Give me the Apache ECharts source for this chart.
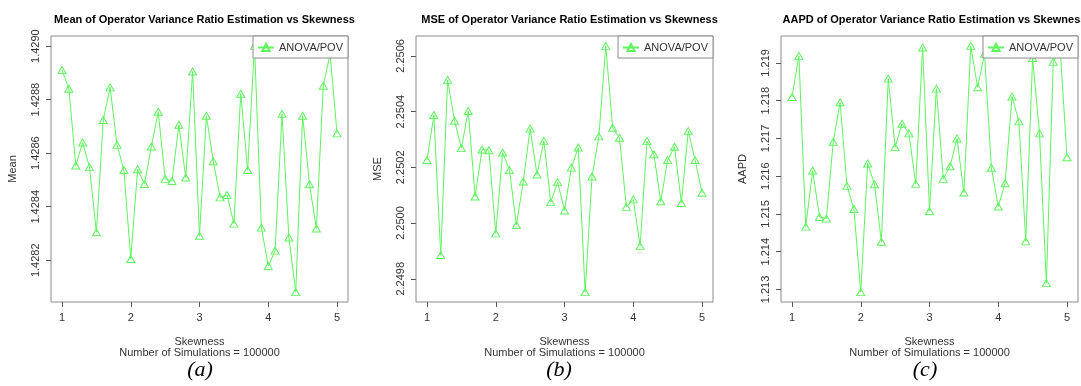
<!DOCTYPE html>
<html>
<head>
<meta charset="utf-8">
<script src="https://cdn.jsdelivr.net/npm/echarts@6/dist/echarts.min.js"></script>
<style>
  html, body { margin: 0; padding: 0; background: #fff; }
  #chart { width: 1081px; height: 386px; }
</style>
</head>
<body>
<div id="chart"></div>
<script>
// skewness levels on the x axis
const skewness = [1.0, 1.1, 1.2, 1.3, 1.4, 1.5, 1.6, 1.7, 1.8, 1.9,
                  2.0, 2.1, 2.2, 2.3, 2.4, 2.5, 2.6, 2.7, 2.8, 2.9,
                  3.0, 3.1, 3.2, 3.3, 3.4, 3.5, 3.6, 3.7, 3.8, 3.9,
                  4.0, 4.1, 4.2, 4.3, 4.4, 4.5, 4.6, 4.7, 4.8, 4.9, 5.0];

const meanVals = [1.428911, 1.428841, 1.428554, 1.428640, 1.428548, 1.428305, 1.428724, 1.428846, 1.428631, 1.428537,
                  1.428205, 1.428540, 1.428485, 1.428625, 1.428755, 1.428504, 1.428496, 1.428706, 1.428509, 1.428905,
                  1.428292, 1.428740, 1.428570, 1.428435, 1.428444, 1.428337, 1.428822, 1.428537, 1.429001, 1.428322,
                  1.428179, 1.428236, 1.428747, 1.428285, 1.428081, 1.428740, 1.428484, 1.428319, 1.428852, 1.428970, 1.428674];

const mseVals = [2.250226, 2.250388, 2.249885, 2.250514, 2.250367, 2.250269, 2.250402, 2.250095, 2.250264, 2.250261,
                 2.249963, 2.250253, 2.250190, 2.249993, 2.250149, 2.250339, 2.250174, 2.250295, 2.250075, 2.250147,
                 2.250045, 2.250199, 2.250271, 2.249752, 2.250167, 2.250311, 2.250636, 2.250342, 2.250306, 2.250058,
                 2.250085, 2.249918, 2.250294, 2.250247, 2.250078, 2.250226, 2.250274, 2.250072, 2.250330, 2.250226, 2.250109];

const aapdVals = [1.218097, 1.219186, 1.214664, 1.216150, 1.214920, 1.214876, 1.216912, 1.217956, 1.215743, 1.215133,
                  1.212929, 1.216336, 1.215788, 1.214265, 1.218584, 1.216770, 1.217389, 1.217133, 1.215796, 1.219407,
                  1.215080, 1.218319, 1.215929, 1.216265, 1.217000, 1.215566, 1.219451, 1.218354, 1.219239, 1.216221,
                  1.215195, 1.215814, 1.218106, 1.217451, 1.214274, 1.219130, 1.217133, 1.213168, 1.219027, 1.219400, 1.216500];

const xTicks = [1, 2, 3, 4, 5];
const meanTicks = [1.4282, 1.4284, 1.4286, 1.4288, 1.4290];
const mseTicks = [2.2498, 2.2500, 2.2502, 2.2504, 2.2506];
const aapdTicks = [1.213, 1.214, 1.215, 1.216, 1.217, 1.218, 1.219];

const seriesName = 'ANOVA/POV';
const titles = [
  'Mean of Operator Variance Ratio Estimation vs Skewness',
  'MSE of Operator Variance Ratio Estimation vs Skewness',
  'AAPD of Operator Variance Ratio Estimation vs Skewness'
];
const yNames = ['Mean', 'MSE', 'AAPD'];
const panelTags = ['(a)', '(b)', '(c)'];
const tagX = [200, 559, 925];

const panels = [
  { vals: meanVals, ticks: meanTicks, dec: 4 },
  { vals: mseVals, ticks: mseTicks, dec: 4 },
  { vals: aapdVals, ticks: aapdTicks, dec: 3 }
];

const W = 1081;
const lefts = [51, 416, 781];
const gw = 297, gh = 266, gtop = 36;
const green = '#5ef55e';
const font = 'Liberation Sans, Arial, sans-serif';

// R style 4% padding on both axes
const pad = v => (v.max - v.min) * 0.04;

const option = {
  animation: false,
  title: titles.map((t, i) => ({
    text: t,
    left: lefts[i] + gw / 2,
    top: 9,
    textAlign: 'center',
    textStyle: { fontSize: 11, fontWeight: 'bold', color: '#000', fontFamily: font }
  })),
  legend: panels.map((p, i) => ({
    data: [seriesName],
    right: W - (lefts[i] + gw),
    top: gtop,
    padding: [6, 5, 5, 4],
    itemWidth: 16,
    itemHeight: 9,
    backgroundColor: '#fff',
    borderColor: '#8a8a8a',
    borderWidth: 1,
    borderRadius: 0,
    selectedMode: false,
    lineStyle: { width: 2 },
    textStyle: { fontSize: 11, color: '#333', fontFamily: font }
  })),
  grid: lefts.map(l => ({
    left: l, top: gtop, width: gw, height: gh,
    show: true, borderColor: '#8a8a8a', borderWidth: 1
  })),
  xAxis: panels.map((p, i) => ({
    type: 'value',
    gridIndex: i,
    min: v => v.min - pad(v),
    max: v => v.max + pad(v),
    splitLine: { show: false },
    axisLine: { show: false },
    axisTick: { show: true, customValues: xTicks, length: 5, lineStyle: { color: '#555' } },
    axisLabel: { customValues: xTicks, margin: 10, fontSize: 11, color: '#333', fontFamily: font },
    name: 'Skewness\nNumber of Simulations = 100000',
    nameLocation: 'middle',
    nameGap: 34,
    nameTextStyle: { fontSize: 11, lineHeight: 11, color: '#333', fontFamily: font }
  })),
  yAxis: panels.map((p, i) => ({
    type: 'value',
    gridIndex: i,
    min: v => v.min - pad(v),
    max: v => v.max + pad(v),
    splitLine: { show: false },
    axisLine: { show: false },
    axisTick: { show: true, customValues: p.ticks, length: 5, lineStyle: { color: '#555' } },
    axisLabel: {
      customValues: p.ticks, rotate: 90, margin: 10, fontSize: 11, color: '#333', fontFamily: font,
      formatter: v => v.toFixed(p.dec)
    },
    name: yNames[i],
    nameLocation: 'middle',
    nameRotate: 90,
    nameGap: 33,
    nameTextStyle: { fontSize: 11, color: '#333', fontFamily: font }
  })),
  series: panels.map((p, i) => ({
    name: seriesName,
    type: 'line',
    xAxisIndex: i,
    yAxisIndex: i,
    data: skewness.map((x, k) => [x, p.vals[k]]),
    symbol: 'triangle',
    symbolSize: [8, 7],
    color: green,
    lineStyle: { color: green, width: 1 },
    itemStyle: { color: 'rgba(255,255,255,0)', borderColor: green, borderWidth: 1 }
  })),
  graphic: panelTags.map((t, i) => ({
    type: 'text',
    x: tagX[i],
    y: 370,
    style: {
      text: t, fill: '#000', textAlign: 'center', textVerticalAlign: 'middle',
      font: 'italic 22px "Liberation Serif", "Times New Roman", serif'
    }
  }))
};

const chart = echarts.init(document.getElementById('chart'));
chart.setOption(option);
</script>
</body>
</html>
